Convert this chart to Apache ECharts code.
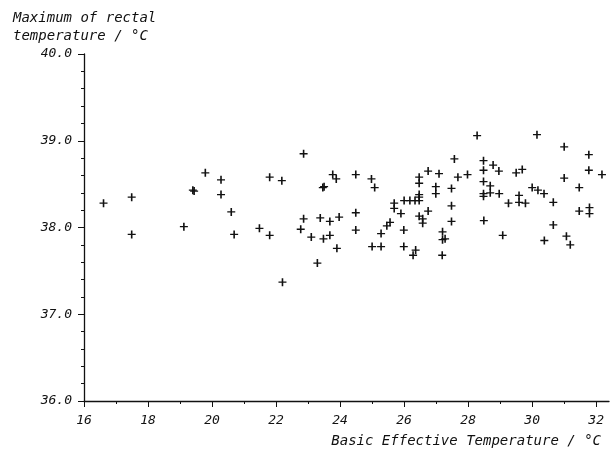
<!DOCTYPE html>
<html>
<head>
<meta charset="utf-8">
<script src="https://cdn.jsdelivr.net/npm/echarts@6/dist/echarts.min.js"></script>
<style>
  html, body { margin: 0; padding: 0; background: #fff; }
  #chart { width: 614px; height: 454px; }
</style>
</head>
<body>
<div id="chart"></div>
<script>
// Basic Effective Temperature (°C) vs maximum rectal temperature (°C)
var betValues = [
  16.61, 17.49, 17.49, 19.12, 19.40, 19.44, 19.79, 20.28, 20.28, 20.60, 20.69, 21.48,
  21.80, 21.80, 22.18, 22.86, 23.29, 22.20, 22.86, 22.77, 23.10, 23.38, 23.48, 23.46,
  23.50, 23.68, 23.68, 23.77, 23.88, 23.90, 23.97, 24.49, 24.49, 24.49, 24.98, 25.08,
  25.00, 25.28, 25.28, 25.46, 25.56, 25.69, 25.69, 25.90, 25.99, 25.99, 26.00, 26.18,
  26.34, 26.47, 26.47, 26.47, 26.47, 26.47, 26.75, 26.75, 26.47, 26.58, 26.58, 26.36,
  26.28,
  28.28, 30.15, 31.00, 31.77, 32.18, 31.77, 31.00, 31.47, 31.47, 31.79, 31.79, 31.07,
  31.19, 30.66, 30.66, 30.38, 30.37, 30.18, 30.00, 29.69, 29.50, 29.26, 29.59, 29.59,
  29.79, 29.08, 28.96, 28.78, 28.48, 28.48, 28.48, 28.69, 28.69, 28.48, 28.48, 28.97,
  28.49, 27.98, 27.68, 27.57, 27.48, 27.48, 27.48, 27.09, 26.99, 26.99, 27.20, 27.20,
  27.28, 27.19
]
var rectalMax = [
  38.28, 38.35, 37.92, 38.01, 38.43, 38.42, 38.63, 38.55, 38.38, 38.18, 37.92, 37.99,
  37.91, 38.58, 38.54, 38.85, 37.59, 37.37, 38.10, 37.98, 37.89, 38.11, 37.87, 38.46,
  38.47, 38.07, 37.91, 38.61, 38.56, 37.76, 38.12, 38.61, 38.17, 37.97, 38.56, 38.46,
  37.78, 37.78, 37.93, 38.02, 38.06, 38.28, 38.22, 38.16, 37.97, 37.78, 38.31, 38.31,
  38.31, 38.31, 38.35, 38.38, 38.58, 38.51, 38.65, 38.19, 38.13, 38.10, 38.05, 37.74,
  37.68,
  39.06, 39.07, 38.93, 38.84, 38.61, 38.66, 38.57, 38.46, 38.19, 38.23, 38.16, 37.90,
  37.80, 38.29, 38.03, 37.85, 38.39, 38.43, 38.46, 38.67, 38.63, 38.28, 38.37, 38.29,
  38.28, 37.91, 38.65, 38.72, 38.77, 38.66, 38.53, 38.48, 38.40, 38.39, 38.36, 38.39,
  38.08, 38.61, 38.58, 38.79, 38.45, 38.25, 38.07, 38.62, 38.47, 38.39, 37.95, 37.86,
  37.87, 37.68
]
var xTicks = [16, 18, 20, 22, 24, 26, 28, 30, 32]

var points = betValues.map(function (x, i) {
  return [x, rectalMax[i]]
})

var font = '"DejaVu Sans Mono", monospace'
var ink = '#111'
// plus-shaped marker
var plus = 'path://M0,4.2H4V0H6V4.2H10V5.8H6V10H4V5.8H0Z'

var chart = echarts.init(document.getElementById('chart'))
chart.setOption({
  animation: false,
  backgroundColor: '#fff',
  title: [
    {
      text: 'Maximum of rectal\ntemperature / °C',
      left: 8,
      top: 4,
      textStyle: {
        fontFamily: font,
        fontStyle: 'italic',
        fontWeight: 'normal',
        fontSize: 14,
        lineHeight: 18,
        color: ink
      }
    },
    {
      text: 'Basic Effective Temperature / °C',
      right: 8,
      top: 429,
      textStyle: {
        fontFamily: font,
        fontStyle: 'italic',
        fontWeight: 'normal',
        fontSize: 14,
        color: ink
      }
    }
  ],
  grid: {
    left: 84,
    right: 5,
    top: 54,
    bottom: 53,
    containLabel: false
  },
  xAxis: {
    type: 'value',
    min: 16,
    max: 32.4,
    interval: 2,
    splitLine: { show: false },
    axisLine: {
      show: true,
      onZero: false,
      lineStyle: { color: ink, width: 1.3 }
    },
    axisTick: {
      show: true,
      length: 6,
      customValues: xTicks,
      lineStyle: { color: ink, width: 1 }
    },
    minorTick: {
      show: true,
      splitNumber: 2,
      length: 3,
      lineStyle: { color: ink, width: 1 }
    },
    axisLabel: {
      margin: 13,
      customValues: xTicks,
      fontFamily: font,
      fontStyle: 'italic',
      fontSize: 13,
      color: ink,
      formatter: function (value) {
        return value % 2 === 0 ? String(value) : ''
      }
    }
  },
  yAxis: {
    type: 'value',
    min: 36,
    max: 40,
    interval: 1,
    splitLine: { show: false },
    axisLine: {
      show: true,
      onZero: false,
      lineStyle: { color: ink, width: 1.3 }
    },
    axisTick: {
      show: true,
      length: 6,
      lineStyle: { color: ink, width: 1 }
    },
    minorTick: {
      show: true,
      splitNumber: 5,
      length: 3,
      lineStyle: { color: ink, width: 1 }
    },
    axisLabel: {
      margin: 12,
      fontFamily: font,
      fontStyle: 'italic',
      fontSize: 13,
      color: ink,
      formatter: function (value) {
        return value.toFixed(1)
      }
    }
  },
  series: [
    {
      type: 'scatter',
      data: points,
      symbol: plus,
      symbolSize: 8,
      itemStyle: { color: ink, opacity: 1 }
    }
  ]
})
</script>
</body>
</html>
